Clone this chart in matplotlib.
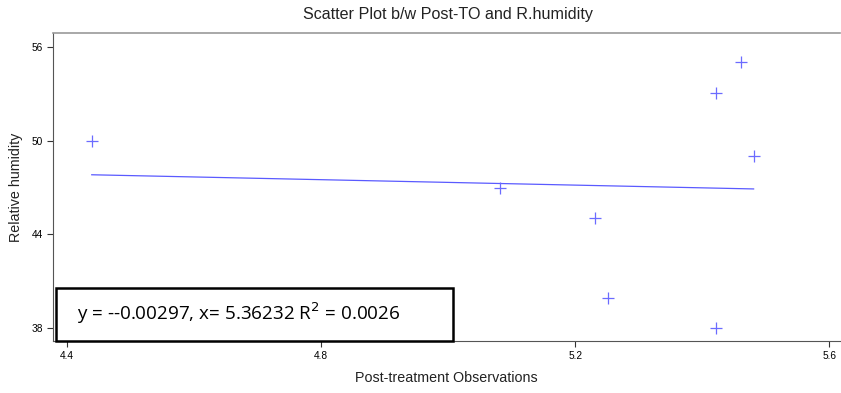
import numpy as np
import matplotlib
matplotlib.use("Agg")
import matplotlib.pyplot as plt
from matplotlib.patches import Rectangle

# post-treatment observations vs relative humidity
post_to = [4.439, 5.081, 5.422, 5.461, 5.481, 5.232, 5.252, 5.421]
humidity = [50.0, 46.97, 53.01, 55.02, 49.01, 45.04, 39.95, 38.0]

x_ticks = [4.4, 4.8, 5.2, 5.6]
y_ticks = [38, 44, 50, 56]
eq_text = "y = --0.00297, x= 5.36232 R$^2$ = 0.0026"

plt.rcParams['font.family'] = ['Liberation Sans', 'DejaVu Sans']

fig = plt.figure(figsize=(8.41, 3.93), dpi=100)
ax = fig.add_axes([53/841, 1 - 341/393, 787/841, 308/393])

ax.scatter(post_to, humidity, marker='+', s=75, color='#6b6bff', linewidths=0.9, zorder=3)

# least squares fit drawn over the data range
slope, icpt = np.polyfit(post_to, humidity, 1)
xs = np.array([min(post_to), max(post_to)])
ax.plot(xs, slope * xs + icpt, color='#5a5aff', lw=0.9)

ax.set_xlim(4.378, 5.617)
ax.set_ylim(37.17, 56.88)
ax.set_xticks(x_ticks)
ax.set_xticklabels([f"{t:.1f}" for t in x_ticks])
ax.set_yticks(y_ticks)
ax.tick_params(labelsize=7.3, colors='#333333', length=4, width=0.8)
for lab in ax.get_xticklabels() + ax.get_yticklabels():
    lab.set_color('black')

ax.spines['right'].set_visible(False)
ax.spines['left'].set_color('#555555')
ax.spines['bottom'].set_color('#555555')
ax.spines['top'].set_color('#999999')
ax.spines['top'].set_linewidth(1.2)

ax.set_xlabel("Post-treatment Observations", fontsize=10.3, color='#222222', labelpad=7)
ax.set_ylabel("Relative humidity", fontsize=10.3, color='#222222', labelpad=6)
fig.text(448/841, 1 - 14/393, "Scatter Plot b/w Post-TO and R.humidity",
         ha='center', va='center', fontsize=11.6, color='#222222')

# equation box
fig.add_artist(Rectangle((56/841, 1 - 341/393), 397/841, 53/393,
                         transform=fig.transFigure, fill=True, facecolor='white',
                         edgecolor='black', lw=1.8, zorder=5))
fig.text(77/841, 1 - 313/393, eq_text, ha='left', va='center', fontsize=13.6,
         family=['Open Sans', 'DejaVu Sans'], color='black', zorder=6)

fig.savefig("out.png", dpi=100)
